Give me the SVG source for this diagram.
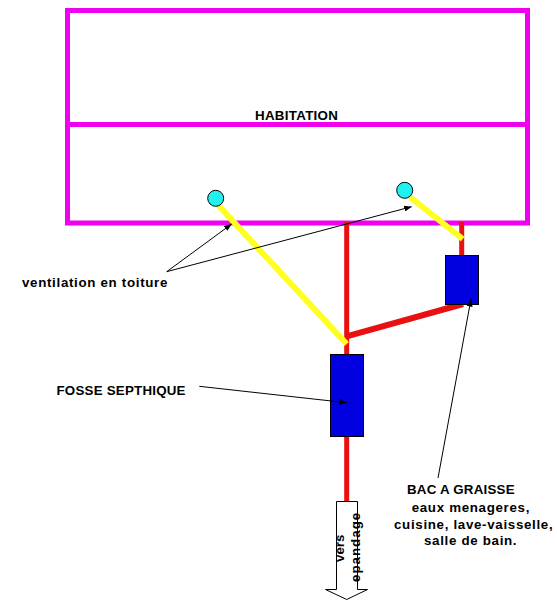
<svg xmlns="http://www.w3.org/2000/svg" width="557" height="600" viewBox="0 0 557 600">
<style>
text{font-family:"Liberation Sans",Arial,sans-serif;font-weight:700;font-size:13.33px;fill:#000}
.house{fill:none;stroke:#f000f0;stroke-width:5}
.pipe{stroke:#e81010;stroke-width:5;fill:none}
.vent{stroke:#ffff20;stroke-width:6;fill:none}
.tank{fill:#0000e0;stroke:#000;stroke-width:1}
.cap{fill:#20f0f0;stroke:#000;stroke-width:1}
.lead{stroke:#000;stroke-width:1;fill:none;marker-end:url(#a)}
.lc{letter-spacing:.68px}
.uc{letter-spacing:.22px}
</style>
<defs><marker id="a" markerUnits="userSpaceOnUse" markerWidth="8" markerHeight="6" refX="7.5" refY="3" orient="auto"><path d="M0 0L7.5 3L0 6Z" fill="#000"/></marker></defs>
<rect width="557" height="600" fill="#fff"/>
<g id="habitation"><rect class="house" x="67.5" y="10.5" width="460" height="212.5"/><path class="house" d="M67.5 124.5H527.5"/><text x="255" y="119.5" letter-spacing=".3">HABITATION</text></g>
<g id="connectors">
<path class="pipe" d="M346.7 222V355M346.7 436V502M461.7 222V257"/>
<path class="pipe" style="stroke-width:6" d="M345.7 336.7L463 304"/>
<path class="vent" d="M218 205L346.7 344M410 197L462.7 239"/>
</g>
<g id="bac-a-graisse"><rect class="tank" x="445.5" y="255.5" width="33" height="49"/></g>
<g id="fosse-septique"><rect class="tank" x="330.5" y="354.5" width="33" height="82"/></g>
<g id="vent-1"><circle class="cap" cx="215.7" cy="198.3" r="8"/></g>
<g id="vent-2"><circle class="cap" cx="404.7" cy="190.3" r="8"/></g>
<g id="leaders">
<path class="lead" d="M166.7 271.7L231.7 224"/>
<path class="lead" d="M166.7 271.7L411.7 206.7"/>
<path class="lead" d="M199.3 386.3L346.7 402.7"/>
<path class="lead" d="M438 478L471 299"/>
</g>
<g id="vers-epandage"><path fill="#fff" stroke="#000" d="M336.5 501.5H357.5V589.5H367.5L346.7 599.5L325.5 589.5H336.5Z"/>
<text transform="translate(344 562) rotate(-90)">vers</text>
<text transform="translate(360 582) rotate(-90)" letter-spacing="1">epandage</text></g>
<g id="labels">
<text class="lc" x="22" y="287">ventilation en toiture</text>
<text class="uc" x="56.5" y="395">FOSSE SEPTHIQUE</text>
<text class="uc" x="407" y="494">BAC A GRAISSE</text>
<text class="lc" x="411.7" y="512">eaux menageres,</text>
<text class="lc" x="394" y="529">cuisine, lave-vaisselle,</text>
<text class="lc" x="424" y="544.5">salle de bain.</text>
</g>
</svg>
